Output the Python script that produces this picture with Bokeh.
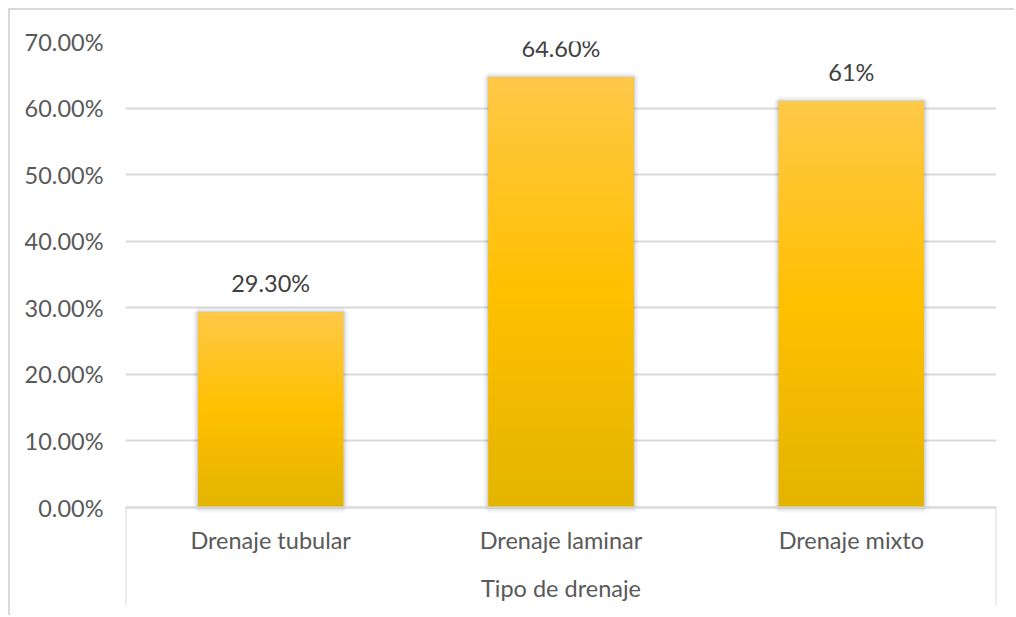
import numpy as np
from bokeh.plotting import figure
from bokeh.models import Range1d, FactorRange, FixedTicker, NumeralTickFormatter, ColumnDataSource
from bokeh.core.properties import value
from bokeh.embed import file_html
from bokeh.resources import INLINE

# ---- data ----
categories = ["Drenaje tubular", "Drenaje laminar", "Drenaje mixto"]
values = [0.293, 0.646, 0.61]
value_labels = ["29.30%", "64.60%", "61%"]
y_ticks = [0.0, 0.1, 0.2, 0.3, 0.4, 0.5, 0.6, 0.7]
x_title = "Tipo de drenaje"

FONT = "Lato"
FS = "23.5px"
GRID = "#D9D9D9"
TXT = "#595959"
BAR_W = 0.5

y_top = 0.7
px_per_unit = 466 / 0.7
y_bottom = -110 / px_per_unit   # frame bottom (canvas edge)
sep_bottom = -98 / px_per_unit  # end of the category separators

p = figure(
    width=1006, height=607,
    x_range=FactorRange(factors=categories, range_padding=0),
    y_range=Range1d(y_bottom, y_top),
    output_backend="svg", toolbar_location=None,
    min_border_left=115, min_border_right=20, min_border_top=31, min_border_bottom=0,
    background_fill_color="white", border_fill_color="white",
    outline_line_color=None,
    margin=(8, 0, 0, 8),
    styles={"border-top": "2px solid #D9D9D9", "border-left": "2px solid #D9D9D9"},
)

src = ColumnDataSource(dict(cat=categories, val=values, lab=value_labels))

# soft shadow
for lw, la in [(10, 0.04), (6, 0.05), (3, 0.08)]:
    p.vbar(x="cat", top="val", width=BAR_W, source=src, fill_color=None,
           line_color="#000000", line_alpha=la, line_width=lw)

# bars
p.vbar(x="cat", top="val", width=BAR_W, source=src, fill_color="#FFC000", line_color=None)

# vertical gradient over each bar
N = 256
t = np.linspace(0, 1, N)
stops_t = [0.0, 0.5, 1.0]
stops_c = np.array([[0xE3, 0xB4, 0x00], [0xFF, 0xC0, 0x00], [0xFF, 0xC8, 0x47]], dtype=float)
rgb = np.stack([np.interp(t, stops_t, stops_c[:, k]) for k in range(3)], axis=1)
img = np.empty((N, 1), dtype=np.uint32)
view = img.view(dtype=np.uint8).reshape((N, 1, 4))
view[:, 0, 0] = rgb[:, 0].round().astype(np.uint8)
view[:, 0, 1] = rgb[:, 1].round().astype(np.uint8)
view[:, 0, 2] = rgb[:, 2].round().astype(np.uint8)
view[:, 0, 3] = 255
idx = np.arange(len(categories))
p.image_rgba(image=[img] * len(values), x=list(idx + (1 - BAR_W) / 2), y=[0] * len(values),
             dw=[BAR_W] * len(values), dh=values)

# category separators at the outer edges (below the axis)
n = len(categories)
p.segment(x0=[0, n], y0=[0, 0], x1=[0, n], y1=[sep_bottom, sep_bottom],
          line_color=GRID, line_width=2)

# data labels
p.text(x="cat", y="val", text="lab", source=src, text_align="center",
       text_baseline="alphabetic", y_offset=-29, text_font=value(FONT),
       text_font_size=FS, text_color="#404040")

# axes
p.xaxis.fixed_location = 0
p.xaxis.axis_line_color = GRID
p.xaxis.axis_line_width = 2
p.xaxis.major_tick_line_color = None
p.xaxis.minor_tick_line_color = None
p.xaxis.major_label_text_font = FONT
p.xaxis.major_label_text_font_size = FS
p.xaxis.major_label_text_color = TXT
p.xaxis.major_label_standoff = 12
p.xaxis.axis_label = x_title
p.xaxis.axis_label_text_font = FONT
p.xaxis.axis_label_text_font_size = FS
p.xaxis.axis_label_text_font_style = "normal"
p.xaxis.axis_label_text_color = TXT
p.xaxis.axis_label_standoff = 17

p.yaxis.ticker = FixedTicker(ticks=y_ticks)
p.yaxis.formatter = NumeralTickFormatter(format="0.00%")
p.yaxis.axis_line_color = None
p.yaxis.major_tick_line_color = None
p.yaxis.minor_tick_line_color = None
p.yaxis.major_label_text_font = FONT
p.yaxis.major_label_text_font_size = FS
p.yaxis.major_label_text_color = TXT
p.yaxis.major_label_standoff = 16

p.ygrid.ticker = FixedTicker(ticks=y_ticks)
p.ygrid.grid_line_color = GRID
p.ygrid.grid_line_width = 2
p.xgrid.grid_line_color = None

open("out.html", "w").write(file_html(p, INLINE))
